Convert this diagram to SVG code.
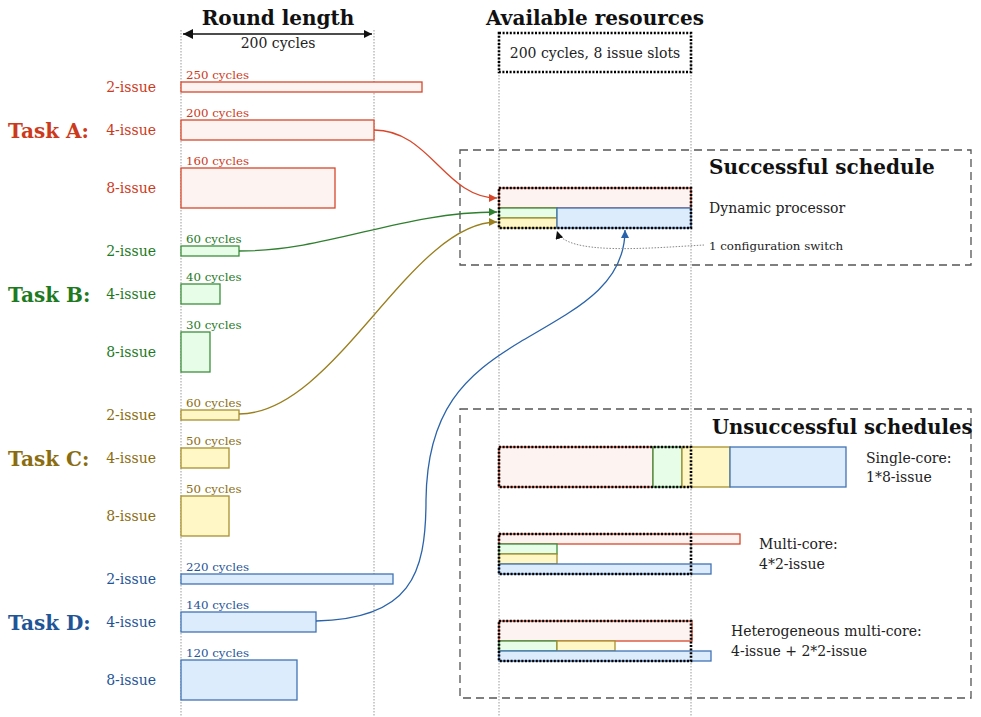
<svg xmlns="http://www.w3.org/2000/svg" width="981" height="717" viewBox="0 0 981 717">
<defs>
<style>
text{font-family:"DejaVu Serif","Liberation Serif",serif;}
.t{font-size:14px;fill:#222;}
.h{font-size:20px;font-weight:bold;fill:#111;}
.tk{font-size:20px;font-weight:bold;}
.il{font-size:14px;text-anchor:end;}
.cl{font-size:11.8px;}
.vl{stroke:#999;stroke-width:1;stroke-dasharray:1.5 1.5;fill:none;}
.dash{stroke:#555;stroke-width:1.3;stroke-dasharray:8 5;fill:none;}
.dot{stroke:#000;stroke-width:2.6;stroke-dasharray:2 1.6;fill:none;}
.ra{fill:#fdf3f1;stroke:#d8472b;stroke-width:1.3;}
.rb{fill:#e8fde8;stroke:#3d8f3d;stroke-width:1.3;}
.rc{fill:#fff8c6;stroke:#a8902e;stroke-width:1.3;}
.rd{fill:#ddecfc;stroke:#3f74b5;stroke-width:1.3;}
.ca{fill:#cc3a1c;}
.cb{fill:#1e7a1e;}
.cc{fill:#8b6d10;}
.cd{fill:#1f5597;}
.conn{fill:none;stroke-width:1.3;}
</style>
<marker id="mA" viewBox="0 0 10 10" refX="10" refY="5" markerWidth="8" markerHeight="8" markerUnits="userSpaceOnUse" orient="auto"><path d="M0,0 L10,5 L0,10 z" fill="#d8472b"/></marker>
<marker id="mB" viewBox="0 0 10 10" refX="10" refY="5" markerWidth="8" markerHeight="8" markerUnits="userSpaceOnUse" orient="auto"><path d="M0,0 L10,5 L0,10 z" fill="#2e7f2e"/></marker>
<marker id="mC" viewBox="0 0 10 10" refX="10" refY="5" markerWidth="8" markerHeight="8" markerUnits="userSpaceOnUse" orient="auto"><path d="M0,0 L10,5 L0,10 z" fill="#9a7f1e"/></marker>
<marker id="mD" viewBox="0 0 10 10" refX="10" refY="5" markerWidth="8" markerHeight="8" markerUnits="userSpaceOnUse" orient="auto"><path d="M0,0 L10,5 L0,10 z" fill="#2a63aa"/></marker>
<marker id="mK" viewBox="0 0 10 10" refX="10" refY="5" markerWidth="8" markerHeight="8" markerUnits="userSpaceOnUse" orient="auto"><path d="M0,0 L10,5 L0,10 z" fill="#111"/></marker>
<marker id="mKs" viewBox="0 0 10 10" refX="0" refY="5" markerWidth="10" markerHeight="10" markerUnits="userSpaceOnUse" orient="auto"><path d="M10,0 L0,5 L10,10 z" fill="#111"/></marker>
</defs>
<rect width="981" height="717" fill="#fff"/>

<g id="guides">
<line class="vl" x1="181" y1="30" x2="181" y2="717"/>
<line class="vl" x1="374" y1="30" x2="374" y2="717"/>
<line class="vl" x1="499" y1="33" x2="499" y2="717"/>
<line class="vl" x1="691" y1="33" x2="691" y2="717"/>
</g>

<g id="round-length">
<text class="h" x="278" y="25" text-anchor="middle">Round length</text>
<line x1="183" y1="34" x2="372" y2="34" stroke="#111" stroke-width="1.5" marker-start="url(#mKs)" marker-end="url(#mK)"/>
<text class="t" x="278" y="48" text-anchor="middle">200 cycles</text>
</g>

<g id="available-resources">
<text class="h" x="595" y="25" text-anchor="middle">Available resources</text>
<rect class="dot" x="499" y="33" width="192" height="39"/>
<text class="t" x="595" y="58" text-anchor="middle">200 cycles, 8 issue slots</text>
</g>

<g id="task-a">
<text class="tk ca" x="8" y="138">Task A:</text>
<text class="il ca" x="156" y="92">2-issue</text>
<text class="cl ca" x="186" y="79">250 cycles</text>
<rect class="ra" x="181" y="82" width="241" height="10"/>
<text class="il ca" x="156" y="135">4-issue</text>
<text class="cl ca" x="186" y="117">200 cycles</text>
<rect class="ra" x="181" y="120" width="193" height="20"/>
<text class="il ca" x="156" y="193">8-issue</text>
<text class="cl ca" x="186" y="165">160 cycles</text>
<rect class="ra" x="181" y="168" width="154" height="40"/>
</g>

<g id="task-b">
<text class="tk cb" x="8" y="302">Task B:</text>
<text class="il cb" x="156" y="256">2-issue</text>
<text class="cl cb" x="186" y="243">60 cycles</text>
<rect class="rb" x="181" y="246" width="58" height="10"/>
<text class="il cb" x="156" y="299">4-issue</text>
<text class="cl cb" x="186" y="281">40 cycles</text>
<rect class="rb" x="181" y="284" width="39" height="20"/>
<text class="il cb" x="156" y="357">8-issue</text>
<text class="cl cb" x="186" y="329">30 cycles</text>
<rect class="rb" x="181" y="332" width="29" height="40"/>
</g>

<g id="task-c">
<text class="tk cc" x="8" y="466">Task C:</text>
<text class="il cc" x="156" y="420">2-issue</text>
<text class="cl cc" x="186" y="407">60 cycles</text>
<rect class="rc" x="181" y="410" width="58" height="10"/>
<text class="il cc" x="156" y="463">4-issue</text>
<text class="cl cc" x="186" y="445">50 cycles</text>
<rect class="rc" x="181" y="448" width="48" height="20"/>
<text class="il cc" x="156" y="521">8-issue</text>
<text class="cl cc" x="186" y="493">50 cycles</text>
<rect class="rc" x="181" y="496" width="48" height="40"/>
</g>

<g id="task-d">
<text class="tk cd" x="8" y="630">Task D:</text>
<text class="il cd" x="156" y="584">2-issue</text>
<text class="cl cd" x="186" y="571">220 cycles</text>
<rect class="rd" x="181" y="574" width="212" height="10"/>
<text class="il cd" x="156" y="627">4-issue</text>
<text class="cl cd" x="186" y="609">140 cycles</text>
<rect class="rd" x="181" y="612" width="135" height="20"/>
<text class="il cd" x="156" y="685">8-issue</text>
<text class="cl cd" x="186" y="657">120 cycles</text>
<rect class="rd" x="181" y="660" width="116" height="40"/>
</g>

<g id="successful-schedule">
<rect class="dash" x="460" y="150" width="511" height="115"/>
<text class="h" x="709" y="174">Successful schedule</text>
<text class="t" x="709" y="213">Dynamic processor</text>
<text class="cl" x="709" y="250" fill="#222">1 configuration switch</text>
<rect class="ra" x="499" y="188" width="192" height="20"/>
<rect class="rb" x="499" y="208" width="58" height="10"/>
<rect class="rc" x="499" y="218" width="58" height="10"/>
<rect class="rd" x="557" y="208" width="134" height="20"/>
<rect class="dot" x="499" y="188" width="192" height="40"/>
</g>

<g id="unsuccessful-schedules">
<rect class="dash" x="460" y="409" width="511" height="289"/>
<text class="h" x="712" y="434" style="font-size:19.6px">Unsuccessful schedules</text>
<g id="single-core">
<rect class="ra" x="499" y="447" width="154" height="40"/>
<rect class="rb" x="653" y="447" width="29" height="40"/>
<rect class="rc" x="682" y="447" width="48" height="40"/>
<rect class="rd" x="730" y="447" width="116" height="40"/>
<rect class="dot" x="499" y="447" width="192" height="40"/>
<text class="t" x="866" y="463">Single-core:</text>
<text class="t" x="866" y="482">1*8-issue</text>
</g>
<g id="multi-core">
<rect class="ra" x="499" y="534" width="241" height="10"/>
<rect class="rb" x="499" y="544" width="58" height="10"/>
<rect class="rc" x="499" y="554" width="58" height="10"/>
<rect class="rd" x="499" y="564" width="212" height="10"/>
<rect class="dot" x="499" y="534" width="192" height="40"/>
<text class="t" x="759" y="549">Multi-core:</text>
<text class="t" x="759" y="569">4*2-issue</text>
</g>
<g id="hetero">
<rect class="ra" x="499" y="621" width="193" height="20"/>
<rect class="rb" x="499" y="641" width="58" height="10"/>
<rect class="rc" x="557" y="641" width="58" height="10"/>
<rect class="rd" x="499" y="651" width="212" height="10"/>
<rect class="dot" x="499" y="621" width="192" height="40"/>
<text class="t" x="731" y="636">Heterogeneous multi-core:</text>
<text class="t" x="731" y="656">4-issue + 2*2-issue</text>
</g>
</g>

<g id="connectors">
<path class="conn" stroke="#d8472b" d="M374,130 C430,130 445,198 497,198" marker-end="url(#mA)"/>
<path class="conn" stroke="#2e7f2e" d="M239,251 C330,251 400,212 497,212" marker-end="url(#mB)"/>
<path class="conn" stroke="#9a7f1e" d="M239,414 C335,414 410,222 497,222" marker-end="url(#mC)"/>
<path class="conn" stroke="#2a63aa" d="M316,621 C410,619 426,575 426,500 C427,410 465,375 520,342 C578,308 625,285 625,230" marker-end="url(#mD)"/>
<path fill="none" stroke="#888" stroke-width="1" stroke-dasharray="1.5 1.5" d="M704,245 C650,248 565,256 557,231" marker-end="url(#mK)"/>
</g>
</svg>
